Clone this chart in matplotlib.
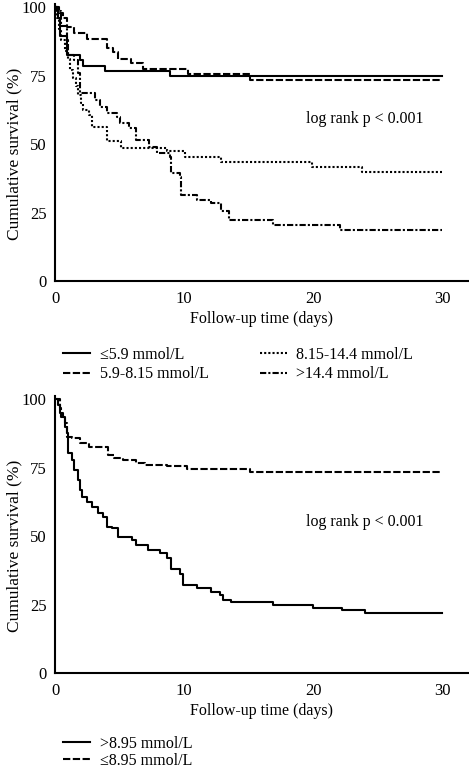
import matplotlib
matplotlib.use("Agg")
import matplotlib.pyplot as plt

plt.rcParams['font.family'] = ['Liberation Serif', 'DejaVu Serif']
plt.rcParams['font.size'] = 11.5

# top panel: glucose groups (days, survival %)
t_le59 = [0, 0.2, 0.4, 0.9, 1.9, 2.2, 3.9, 8.9, 30]
s_le59 = [100, 96, 89.5, 82.5, 80.5, 78.5, 76.5, 74.7, 74.7]

t_59_815 = [0, 0.3, 0.6, 0.9, 1.5, 2.5, 4.0, 4.5, 4.9, 5.9, 6.8, 10.3, 15.1, 30]
s_59_815 = [100, 97.8, 96, 92.7, 90.5, 88.5, 85, 83.5, 81, 79.5, 77.4, 75.4, 73.4, 73.4]

t_815_144 = [0, 0.15, 0.3, 0.5, 0.8, 1.0, 1.2, 1.4, 1.6, 1.8, 2.0, 2.2, 2.6, 2.9,
             4.0, 5.1, 8.7, 10.1, 12.9, 19.9, 23.8, 30]
s_815_144 = [100, 96, 92, 88, 84, 81, 77, 74, 71, 68, 65, 62.4, 60.5, 56.2,
             51, 48.7, 47.5, 45.2, 43.3, 41.6, 39.8, 39.8]

t_gt144 = [0, 0.15, 0.5, 0.9, 1.0, 1.5, 1.8, 1.9, 3.1, 3.5, 4.0, 4.8, 5.0, 5.7, 6.3,
           7.3, 7.9, 8.9, 9.0, 9.7, 9.8, 11.0, 12.1, 12.9, 13.5, 16.9, 22.1, 30]
s_gt144 = [100, 98.5, 93, 88, 82.5, 80.5, 76, 68.6, 66, 63.5, 61.3, 59.9, 57.7, 55.8, 51.5,
           48.9, 46.7, 45.3, 39.4, 38, 31.5, 29.6, 28.5, 25.5, 22.3, 20.6, 18.6, 18.6]

# bottom panel: cut-off 8.95 mmol/L
t_gt895 = [0, 0.2, 0.4, 0.6, 0.8, 0.9, 1.0, 1.3, 1.5, 1.8, 1.9, 2.1, 2.5, 2.9, 3.3, 3.7,
           4.0, 4.4, 4.9, 6.0, 6.3, 7.2, 8.1, 8.7, 9.0, 9.7, 9.9, 11.0, 12.1, 12.8, 13.0,
           13.6, 16.9, 20.0, 22.2, 24.0, 30]
s_gt895 = [100, 97.8, 94.9, 93.4, 89.8, 87.6, 80.3, 77.7, 74, 70.4, 66.8, 64.2, 62.4, 60.6, 58.4, 56.9,
           53.3, 52.9, 49.6, 48.5, 46.7, 44.9, 43.8, 42, 37.8, 36, 32.1, 31, 29.6, 28.5, 26.8,
           25.8, 25, 23.9, 23, 21.9, 21.9]

t_le895 = [0, 0.4, 0.5, 0.8, 0.9, 1.3, 1.9, 2.6, 4.1, 4.6, 5.3, 6.3, 7.0, 8.7, 10.2, 15.1, 30]
s_le895 = [100, 96.7, 93.4, 91.2, 86.1, 85.8, 83.9, 82.5, 79.6, 78.5, 77.7, 76.6, 75.9, 75.4, 74.5, 73.4, 73.4]

top_labels = ['≤5.9 mmol/L', '5.9-8.15 mmol/L', '8.15-14.4 mmol/L', '>14.4 mmol/L']
bottom_labels = ['>8.95 mmol/L', '≤8.95 mmol/L']
xticks = [0, 10, 20, 30]
yticks = [0, 25, 50, 75, 100]

solid = '-'
dashed = (0, (3.5, 1.2))
dotted = (0, (1, 1))
dashdot = (0, (3, 1, 1, 1))
lw = 1.5

fig = plt.figure(figsize=(4.69, 7.69), dpi=100)
W, H = 469, 769
ax1 = fig.add_axes([55 / W, 488 / H, 413 / W, 276.7 / H])
ax2 = fig.add_axes([55 / W, 96 / H, 413 / W, 276.7 / H])


def style(ax):
    ax.set_xlim(0, 32)
    ax.set_ylim(0, 101)
    ax.set_xticks(xticks)
    ax.set_yticks(yticks)
    ax.tick_params(length=0, labelsize=12)
    ax.tick_params(axis='x', pad=7)
    ax.tick_params(axis='y', pad=6)
    for s in ['top', 'right']:
        ax.spines[s].set_visible(False)
    for s in ['left', 'bottom']:
        ax.spines[s].set_linewidth(1.5)
    ax.set_xlabel('Follow-up time (days)', labelpad=3)
    ax.set_ylabel('Cumulative survival (%)', fontsize=12.5)
    ax.yaxis.set_label_coords(-0.08, 0.46)


ax1.step(t_le59, s_le59, where='post', color='black', lw=lw, linestyle=solid, label=top_labels[0])
ax1.step(t_59_815, s_59_815, where='post', color='black', lw=lw, linestyle=dashed, label=top_labels[1])
ax1.step(t_815_144, s_815_144, where='post', color='black', lw=lw, linestyle=dotted, label=top_labels[2])
ax1.step(t_gt144, s_gt144, where='post', color='black', lw=lw, linestyle=dashdot, label=top_labels[3])
style(ax1)
ax1.text(24, 59, 'log rank p < 0.001', ha='center', va='center', fontsize=11.5)

ax2.step(t_gt895, s_gt895, where='post', color='black', lw=lw, linestyle=solid, label=bottom_labels[0])
ax2.step(t_le895, s_le895, where='post', color='black', lw=lw, linestyle=dashed, label=bottom_labels[1])
style(ax2)
ax2.text(24, 55, 'log rank p < 0.001', ha='center', va='center', fontsize=11.5)

fig.legend(handles=ax1.get_lines(), labels=top_labels, ncols=2, loc='upper left',
           bbox_to_anchor=(55 / W, 1 - 339 / H), frameon=False, borderpad=0,
           handlelength=1.7, handletextpad=0.6, columnspacing=3.2, labelspacing=0.2,
           fontsize=11.5)
fig.legend(handles=ax2.get_lines(), labels=bottom_labels, ncols=1, loc='upper left',
           bbox_to_anchor=(55 / W, 1 - 728 / H), frameon=False, borderpad=0,
           handlelength=1.7, handletextpad=0.6, labelspacing=0.05, fontsize=11.5)

fig.savefig('out.png', dpi=100)
